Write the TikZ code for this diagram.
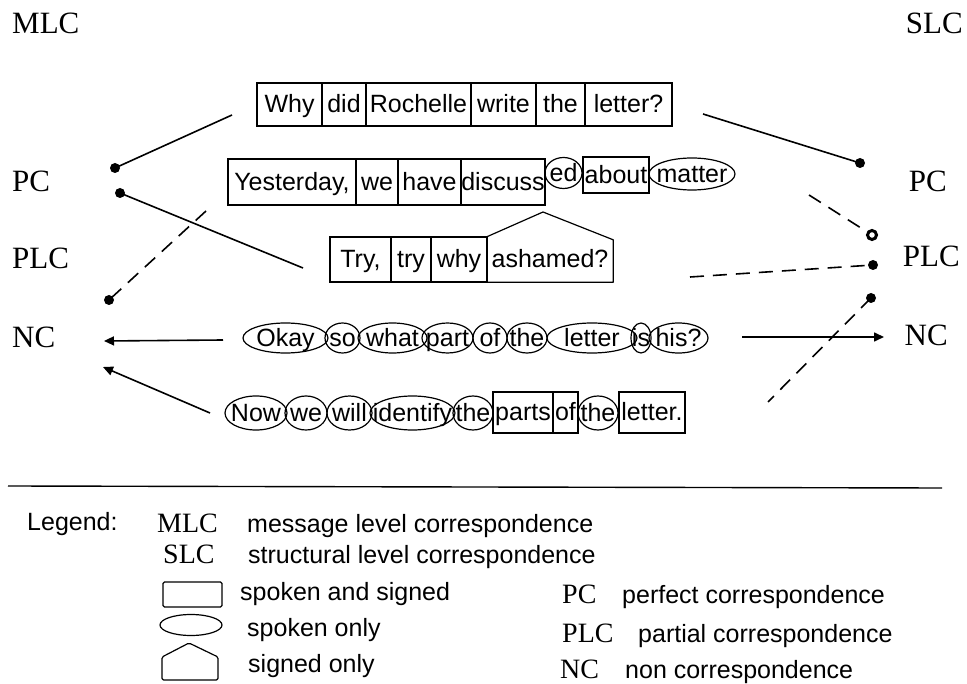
\documentclass[tikz,border=0pt]{standalone}
\usepackage{fontspec}
\setmainfont{Liberation Serif}
\newfontfamily\lsans{Liberation Sans}
\usetikzlibrary{shapes.geometric,arrows.meta,calc}
\newcommand\wt[1]{\makebox[0pt]{\smash{\raisebox{-8.5pt}{#1}}}}
\begin{document}
\begin{tikzpicture}[x=1pt,y=-1pt,
  wrect/.style={draw, rectangle, inner sep=0pt, line width=1.2pt, font=\lsans\fontsize{25}{29}\selectfont},
  woval/.style={draw, ellipse, inner sep=0pt, line width=1.2pt, font=\lsans\fontsize{25}{29}\selectfont},
  wplain/.style={rectangle, inner sep=0pt, font=\lsans\fontsize{25}{29}\selectfont},
  lab/.style={inner sep=0pt, font=\fontsize{31}{35}\selectfont},
  leg/.style={inner sep=0pt, anchor=base west, font=\lsans\fontsize{25}{29}\selectfont},
  legl/.style={inner sep=0pt, anchor=base west, font=\fontsize{28}{32}\selectfont},
  dot/.style={circle, fill, inner sep=0pt, minimum size=10pt},
  ring/.style={circle, draw, fill=white, line width=3pt, inner sep=0pt, minimum size=9pt},
  conn/.style={line width=1.6pt},
  dconn/.style={conn, dash pattern=on 14pt off 9pt},
  arr/.style={conn, -{Triangle[length=10pt,width=9pt]}},
  shp/.style={line width=1.2pt, line join=round}
]
\useasboundingbox (0,0) rectangle (967,684);

% ---- top labels
\node[lab, anchor=west] (mlc) at (12,23) {MLC};
\node[lab, anchor=east] (slc) at (963,23) {SLC};
\node[lab, anchor=west] (lpc) at (12,181) {PC};
\node[lab, anchor=west] (lplc) at (12,258) {PLC};
\node[lab, anchor=west] (lnc) at (12,337) {NC};
\node[lab, anchor=east] (rpc) at (947,181) {PC};
\node[lab, anchor=east] (rplc) at (960,256) {PLC};
\node[lab, anchor=east] (rnc) at (948,335) {NC};

% ---- row 1
\node[wrect, minimum width=65, minimum height=43] (r1a) at (289.5,104.5) {\wt{Why}};
\node[wrect, minimum width=44, minimum height=43] (r1b) at (344,104.5) {\wt{did}};
\node[wrect, minimum width=105, minimum height=43] (r1c) at (418.5,104.5) {\wt{Rochelle}};
\node[wrect, minimum width=65, minimum height=43] (r1d) at (503.5,104.5) {\wt{write}};
\node[wrect, minimum width=49, minimum height=43] (r1e) at (560.5,104.5) {\wt{the}};
\node[wrect, minimum width=87, minimum height=43] (r1f) at (628.5,104.5) {\wt{letter?}};

% ---- row 2
\node[wrect, minimum width=128, minimum height=46] (r2a) at (292,182) {\wt{Yesterday,}};
\node[wrect, minimum width=42, minimum height=46] (r2b) at (377,182) {\wt{we}};
\node[wrect, minimum width=63, minimum height=46] (r2c) at (429.5,182) {\wt{have}};
\node[wrect, minimum width=84, minimum height=46] (r2d) at (503,182) {\wt{discuss}};
\node[woval, minimum width=37, minimum height=31] (r2e) at (563.5,173) {\wt{ed}};
\node[wrect, minimum width=66, minimum height=36] (r2f) at (616,175) {\wt{about}};
\node[woval, minimum width=86, minimum height=32] (r2g) at (692,174) {\wt{matter}};

% ---- row 3
\node[wrect, minimum width=61, minimum height=45] (r3a) at (360.5,259.5) {\wt{Try,}};
\node[wrect, minimum width=40, minimum height=45] (r3b) at (411,259.5) {\wt{try}};
\node[wrect, minimum width=56, minimum height=45] (r3c) at (459,259.5) {\wt{why}};
\node[wplain, minimum width=126, minimum height=45] (r3d) at (550,259.5) {\wt{ashamed?}};
\draw[shp] (r3d.south west) -- (r3d.north west) -- (543,212) -- ($(r3d.north east)+(0,3)$) -- (r3d.south east) -- cycle;

% ---- row 4
\node[woval, minimum width=85, minimum height=30] (r4a) at (285.5,338) {\wt{Okay}};
\node[woval, minimum width=35, minimum height=30] (r4b) at (342.5,338) {\wt{so}};
\node[woval, minimum width=69, minimum height=30] (r4c) at (392.5,338) {\wt{what}};
\node[woval, minimum width=51, minimum height=30] (r4d) at (447.5,338) {\wt{part}};
\node[woval, minimum width=34, minimum height=30] (r4e) at (490,338) {\wt{of}};
\node[woval, minimum width=40, minimum height=30] (r4f) at (527,338) {\wt{the}};
\node[woval, minimum width=90, minimum height=30] (r4g) at (592,338) {\wt{letter}};
\node[woval, minimum width=20, minimum height=30] (r4h) at (641,338) {\wt{is}};
\node[woval, minimum width=59, minimum height=30] (r4i) at (678.5,338) {\wt{his?}};

% ---- row 5
\node[woval, minimum width=62, minimum height=34] (r5a) at (256,413) {\wt{Now}};
\node[woval, minimum width=42, minimum height=34] (r5b) at (306,413) {\wt{we}};
\node[woval, minimum width=45, minimum height=34] (r5c) at (349.5,413) {\wt{will}};
\node[woval, minimum width=85, minimum height=34] (r5d) at (412.5,413) {\wt{identify}};
\node[woval, minimum width=40, minimum height=34] (r5e) at (473,413) {\wt{the}};
\node[wrect, minimum width=60, minimum height=41] (r5f) at (523,412.5) {\wt{parts}};
\node[wrect, minimum width=25, minimum height=41] (r5g) at (565.5,412.5) {\wt{of}};
\node[woval, minimum width=40, minimum height=34] (r5h) at (598,413) {\wt{the}};
\node[wrect, minimum width=66, minimum height=41] (r5i) at (652,412.5) {\wt{letter.}};

% ---- dots
\node[dot] (dl1) at (115,168) {};
\node[dot] (dl2) at (120,193) {};
\node[dot] (dl3) at (109,300) {};
\node[dot] (dr1) at (860,163) {};
\node[ring] (dr2) at (872,235) {};
\node[dot] (dr3) at (873,265) {};
\node[dot] (dr4) at (871,298) {};

% ---- free ends
\coordinate (a1) at (232,115);
\coordinate (a2) at (303,268);
\coordinate (a3) at (206,211);
\coordinate (a4s) at (223,340);
\coordinate (a4t) at (104,341);
\coordinate (a5s) at (210,413);
\coordinate (a5t) at (103,367);
\coordinate (b1) at (703,114);
\coordinate (b2) at (809,195);
\coordinate (b3) at (690,277);
\coordinate (b4) at (768,402);
\coordinate (b5s) at (742,337);
\coordinate (b5t) at (884,337);

% ---- connectors left
\draw[conn] (a1) -- (dl1.center);
\draw[conn] (dl2.center) -- (a2);
\draw[dconn] (a3) -- (dl3.center);
\draw[arr] (a4s) -- (a4t);
\draw[arr] (a5s) -- (a5t);

% ---- connectors right
\draw[conn] (b1) -- (dr1.center);
\draw[dconn] (b2) -- (dr2);
\draw[dconn] (b3) -- (dr3.center);
\draw[dconn] (dr4.center) -- (b4);
\draw[arr] (b5s) -- (b5t);

% ---- separator
\coordinate (h1) at (8,486);
\coordinate (h2) at (942,488);
\draw[line width=1.4pt] (h1) -- (h2);

% ---- legend
\node[leg] (lg) at (27,530) {Legend:};
\node[legl] (lgm) at (157,532) {MLC};
\node[leg] (lgmt) at (247,532) {message level correspondence};
\node[legl] (lgs) at (163,563) {SLC};
\node[leg] (lgst) at (248,563) {structural level correspondence};
\node[draw, rectangle, line width=1.2pt, rounded corners=1.5pt, minimum width=59, minimum height=25, inner sep=0pt] (lrect) at (192.5,594.5) {};
\node[leg] (lrt) at (240,600) {spoken and signed};
\node[draw, ellipse, line width=1.2pt, minimum width=62, minimum height=21, inner sep=0pt] (loval) at (191,625) {};
\node[leg] (lot) at (247,636) {spoken only};
\draw[shp, rounded corners=1.5pt] (162,680) -- (162,657) -- (189,643) -- (218,657) -- (218,680) -- cycle;
\node[leg] (lpt) at (248,672) {signed only};
\node[legl] (lgpc) at (562,603) {PC};
\node[leg] (lgpct) at (622,603) {perfect correspondence};
\node[legl] (lgplc) at (562,642) {PLC};
\node[leg] (lgplct) at (638,642) {partial correspondence};
\node[legl] (lgnc) at (560,678) {NC};
\node[leg] (lgnct) at (625,678) {non correspondence};
\end{tikzpicture}
\end{document}
